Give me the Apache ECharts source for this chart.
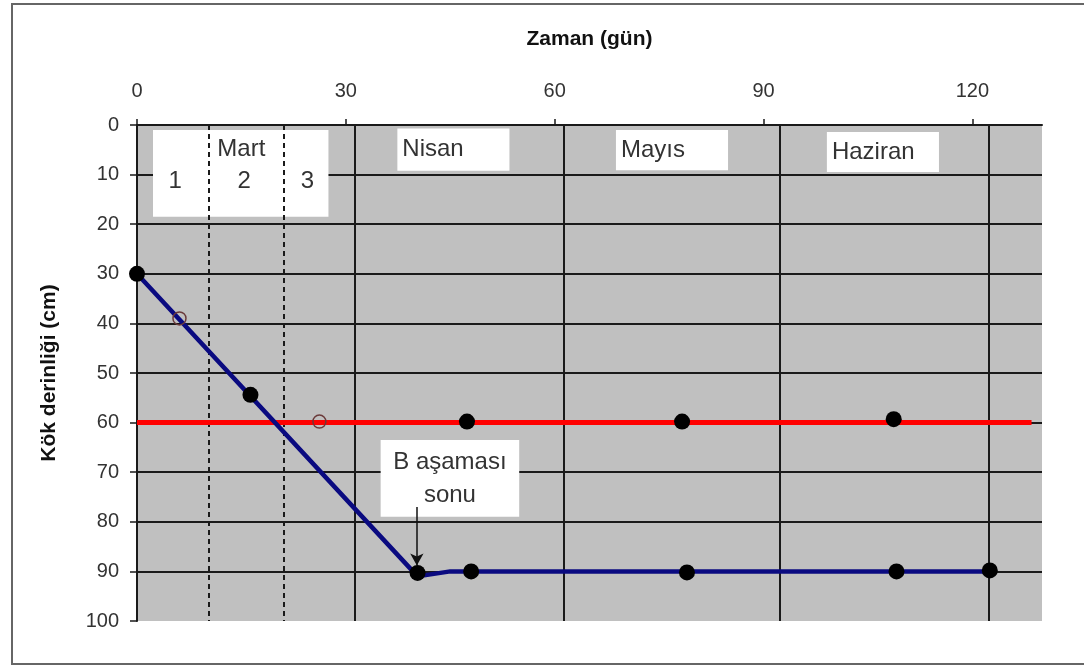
<!DOCTYPE html>
<html>
<head>
<meta charset="utf-8">
<script src="https://cdn.jsdelivr.net/npm/echarts@6/dist/echarts.min.js"></script>
<style>
html,body{margin:0;padding:0;background:#fff;}
#chart{width:1084px;height:672px;}
</style>
</head>
<body>
<div id="chart"></div>
<script>
// ---- data ----
const xTickValues = [0, 30, 60, 90, 120];
const monthBoundaries = [31.3, 61.3, 92.3, 122.4];
const decadeBoundaries = [10.3, 21.1];
const monthNames = ['Nisan', 'Mayıs', 'Haziran'];
const marchName = 'Mart';
const decadeNames = ['1', '2', '3'];
const stageLabel = 'B aşaması\nsonu';
const stageEndDay = 40.2;
const rootDepthLine = [[0, 30], [40.3, 91], [45, 90], [122.5, 90]];
const limitLine = [[0, 60], [128.5, 60]];
const measuredOnRoot = [[0, 30], [16.3, 54.4], [40.3, 90.3], [48, 90], [79, 90.2], [109.1, 90], [122.5, 89.8]];
const measuredOnLimit = [[47.4, 59.8], [78.3, 59.8], [108.7, 59.3]];
const estimatedPoints = [[6.1, 39], [26.2, 59.8]];

// ---- chart ----
const chart = echarts.init(document.getElementById('chart'), null, {renderer: 'canvas'});
const FONT = '"Liberation Sans", Arial, sans-serif';
const boxText = {fontFamily: FONT, fontSize: 24, color: '#333'};

const monthBoxes = [[37.4, 0.7, 53.5, 9.2], [68.8, 1.0, 84.9, 9.1], [99.1, 1.4, 115.2, 9.5]];
const monthAreas = monthNames.map((n, i) => [
  {name: n, coord: [monthBoxes[i][0], monthBoxes[i][1]]},
  {coord: [monthBoxes[i][2], monthBoxes[i][3]]}
]);

const option = {
  animation: false,
  backgroundColor: '#fff',
  graphic: [{
    type: 'rect', silent: true, z: -10,
    shape: {x: 12, y: 4, width: 1100, height: 660},
    style: {fill: 'none', stroke: '#666', lineWidth: 2}
  }],
  grid: {left: 137, right: 42, top: 125, bottom: 51, show: true, backgroundColor: '#c0c0c0', borderWidth: 0},
  xAxis: {
    type: 'value', position: 'top', min: 0, max: 130,
    name: 'Zaman (gün)', nameLocation: 'middle', nameGap: 75,
    nameTextStyle: {fontFamily: FONT, fontWeight: 'bold', fontSize: 21, color: '#111'},
    axisLine: {show: true, onZero: false, lineStyle: {color: '#1a1a1a', width: 2}},
    axisTick: {show: true, inside: false, length: 6, customValues: xTickValues, lineStyle: {color: '#1a1a1a', width: 1.5}},
    axisLabel: {customValues: xTickValues, margin: 24, fontFamily: FONT, fontSize: 20, color: '#333'},
    splitLine: {show: false}
  },
  yAxis: {
    type: 'value', inverse: true, min: 0, max: 100, interval: 10,
    name: 'Kök derinliği (cm)', nameLocation: 'middle', nameGap: 77,
    nameTextStyle: {fontFamily: FONT, fontWeight: 'bold', fontSize: 21, color: '#111'},
    axisLine: {show: true, onZero: false, lineStyle: {color: '#1a1a1a', width: 2}},
    axisTick: {show: true, length: 7, lineStyle: {color: '#1a1a1a', width: 1.5}},
    axisLabel: {margin: 18, fontFamily: FONT, fontSize: 20, color: '#333'},
    splitLine: {show: true, showMaxLine: false, lineStyle: {color: '#1a1a1a', width: 2}}
  },
  series: [
    { // annotation boxes + grid helper lines
      type: 'line', data: [], z: 1, silent: true,
      markArea: {
        silent: true,
        itemStyle: {color: '#fff', opacity: 1},
        label: Object.assign({show: true, position: 'insideLeft', distance: 5}, boxText),
        data: monthAreas.concat([
          [{name: '', coord: [2.3, 1.0]}, {coord: [27.5, 18.5]}],
          [{name: stageLabel, coord: [35, 63.5], label: {position: 'inside', align: 'center', lineHeight: 33}}, {coord: [54.9, 79]}]
        ])
      },
      markLine: {
        silent: true, symbol: 'none', label: {show: false}, animation: false,
        data: monthBoundaries.map(v => ({xAxis: v, lineStyle: {color: '#1a1a1a', width: 2, type: 'solid'}}))
          .concat(decadeBoundaries.map(v => ({xAxis: v, lineStyle: {color: '#1a1a1a', width: 2, type: [5, 4]}})))
      }
    },
    { // arrow to end of stage B
      type: 'line', data: [], z: 3, silent: true,
      markLine: {
        silent: true, symbol: ['none', 'arrow'], symbolSize: [10, 12], label: {show: false},
        lineStyle: {color: '#111', width: 1.5, type: 'solid'},
        data: [[{coord: [stageEndDay, 77]}, {coord: [stageEndDay, 88.8]}]]
      }
    },
    { // Mart and decade labels
      type: 'scatter', z: 4, silent: true, symbolSize: 0.1,
      itemStyle: {color: 'rgba(0,0,0,0)', opacity: 1},
      label: Object.assign({show: true, position: [0, 0], align: 'center', verticalAlign: 'middle', opacity: 1, formatter: p => p.name}, boxText),
      data: [
        {name: marchName, value: [15.0, 5.0]},
        {name: decadeNames[0], value: [5.5, 11.4]},
        {name: decadeNames[1], value: [15.4, 11.4]},
        {name: decadeNames[2], value: [24.5, 11.4]}
      ]
    },
    {
      name: 'limit', type: 'line', z: 10, data: limitLine, showSymbol: false, symbol: 'none',
      lineStyle: {color: '#ff0000', width: 5}
    },
    {
      name: 'root', type: 'line', z: 11, data: rootDepthLine, showSymbol: false, symbol: 'none',
      lineStyle: {color: '#0a0a80', width: 4.5}
    },
    {
      name: 'measured', type: 'scatter', z: 12, symbolSize: 16,
      data: measuredOnRoot.concat(measuredOnLimit),
      itemStyle: {color: '#000', opacity: 1}
    },
    {
      name: 'estimated', type: 'scatter', z: 12, symbolSize: 13,
      data: estimatedPoints,
      itemStyle: {color: 'rgba(0,0,0,0)', borderColor: '#6b3a3a', borderWidth: 1.5, opacity: 1}
    }
  ]
};
chart.setOption(option);
</script>
</body>
</html>
